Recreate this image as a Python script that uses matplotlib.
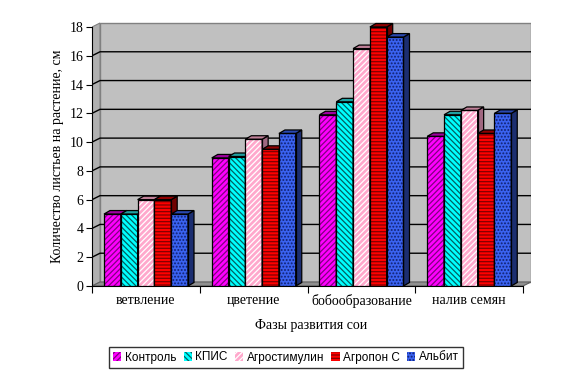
import matplotlib
matplotlib.use("Agg")
import matplotlib.pyplot as plt
from matplotlib.patches import Polygon, Patch
import numpy as np

categories = ["ветвление", "цветение", "бобообразование", "налив семян"]
series = ["Контроль", "КПИС", "Агростимулин", "Агропон С", "Альбит"]
kontrol = [5.0, 8.9, 11.9, 10.4]
kpis = [5.0, 9.0, 12.8, 11.9]
agrostim = [6.0, 10.2, 16.5, 12.2]
agropon = [6.0, 9.5, 18.0, 10.6]
albit = [5.0, 10.6, 17.3, 12.0]
values = [kontrol, kpis, agrostim, agropon, albit]
yticks = [0, 2, 4, 6, 8, 10, 12, 14, 16, 18]

faces = ["#FF00FF", "#00FFFF", "#FFA8CC", "#FF0000", "#3A62F0"]
hatchc = ["#800080", "#006060", "#FFFFFF", "#800000", "#102070"]
hatches = ["//////", "\\\\\\\\\\\\", "//////", "-----", "....."]
tops = ["#A000A0", "#20A0A0", "#C08098", "#900000", "#2A48B0"]
sides = ["#800080", "#208080", "#A06880", "#700000", "#1C2E70"]

plt.rcParams["hatch.linewidth"] = 0.9

fig = plt.figure(figsize=(5.74, 3.84), dpi=100)
W, H = 574, 384
x0p, x4p, y0p, ytopp = 92, 523, 286, 22
pxu = (x4p - x0p) / 4.0
pyu = (286 - 27) / 18.0
dxw, dyw = 8 / pxu, 4 / pyu
dxb, dyb = 6 / pxu, 3.5 / pyu
ymax = (y0p - ytopp) / pyu
xmax = 4 + dxw
ax = fig.add_axes([x0p / W, 1 - y0p / H, (xmax * pxu) / W, (y0p - ytopp) / H])
ax.set_xlim(0, xmax)
ax.set_ylim(0, ymax)
for s in ["top", "right"]:
    ax.spines[s].set_visible(False)
ax.spines["left"].set_bounds(0, 18)
ax.spines["bottom"].set_bounds(0, 4)
ax.patch.set_visible(False)

top = 18
# walls
ax.add_patch(Polygon([(dxw, dyw), (xmax, dyw), (xmax, top + dyw), (dxw, top + dyw)],
                     closed=True, facecolor="#C0C0C0", edgecolor="#808080", lw=1, zorder=0))
ax.add_patch(Polygon([(0, 0), (dxw, dyw), (dxw, top + dyw), (0, top)],
                     closed=True, facecolor="#B0B0B0", edgecolor="#808080", lw=0.8, zorder=0))
ax.add_patch(Polygon([(0, 0), (4, 0), (xmax, dyw), (dxw, dyw)],
                     closed=True, facecolor="#909090", edgecolor="#606060", lw=0.8, zorder=0.5))
for yv in yticks[1:-1]:
    ax.plot([0, dxw, xmax], [yv, yv + dyw, yv + dyw], color="black", lw=1, zorder=1)

w = 16.8 / pxu
off = 12 / pxu
z = 2
for i in range(len(categories)):
    for j in range(len(series)):
        v = values[j][i]
        xl = i + off + j * w
        ax.bar(xl, v, width=w, align="edge", color=faces[j], edgecolor=hatchc[j],
               hatch=hatches[j], lw=0, zorder=z)
        ax.bar(xl, v, width=w, align="edge", fill=False, edgecolor="black", lw=0.9, zorder=z + 0.1)
        ax.add_patch(Polygon([(xl + w, 0), (xl + w + dxb, dyb), (xl + w + dxb, v + dyb), (xl + w, v)],
                             closed=True, facecolor=sides[j], edgecolor="black", lw=0.9, zorder=z + 0.05))
        ax.add_patch(Polygon([(xl, v), (xl + dxb, v + dyb), (xl + w + dxb, v + dyb), (xl + w, v)],
                             closed=True, facecolor=tops[j], edgecolor="black", lw=0.9, zorder=z + 0.05))
        z += 1

serif = "Liberation Serif"
ax.set_yticks(yticks)
ax.set_yticklabels([str(t) for t in yticks], fontfamily=serif, fontsize=10)
ax.set_xticks([0, 1, 2, 3, 4])
ax.set_xticklabels([])
ax.set_xticks([0.5, 1.5, 2.5, 3.5], minor=True)
ax.set_xticklabels(categories, minor=True, fontfamily=serif, fontsize=10)
ax.tick_params(axis="x", which="minor", length=0, pad=6)
ax.tick_params(axis="x", which="major", length=5, direction="out")
ax.tick_params(axis="y", length=4, direction="out", pad=2)
ax.set_xlabel("Фазы развития сои", fontfamily=serif, fontsize=10, labelpad=8)
ax.set_ylabel("Количество листьев на растение, см", fontfamily=serif, fontsize=10)
ax.yaxis.set_label_coords(-28 / (xmax * pxu), 18 / ymax / 2)

handles = [Patch(facecolor=faces[j], edgecolor=hatchc[j], hatch=hatches[j], lw=0) for j in range(5)]
leg = fig.legend(handles, series, loc="center", bbox_to_anchor=(286 / W, 1 - 357.5 / H), ncol=5,
                 frameon=True, fancybox=False, prop={"family": "Liberation Sans", "size": 8.5},
                 handlelength=0.7, handleheight=0.7, handletextpad=0.3, columnspacing=0.6,
                 borderpad=0.35, borderaxespad=0, edgecolor="black")
leg.get_frame().set_linewidth(1.0)

fig.savefig("out.png", dpi=100)
